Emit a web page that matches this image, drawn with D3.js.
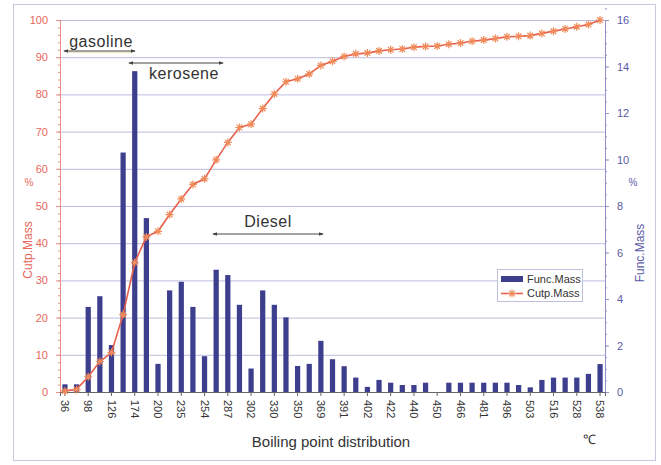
<!DOCTYPE html>
<html lang="en">
<head>
<meta charset="utf-8">
<title>boiling point distribution</title>
<style>
  body { margin: 0; background: #fff; }
  svg { display: block; font-family: "Liberation Sans", Arial, sans-serif; }
  .grid line { stroke: #bcbce0; stroke-width: 1px; }
  .yl path, .yl line { stroke: #e89088; }
  .yl text { fill: #e8665a; font-size: 11px; }
  .yr path, .yr line { stroke: #9090cc; }
  .yr text { fill: #5a5aa8; font-size: 11px; }
  .xa path, .xa line { stroke: #666; }
  .xa text { fill: #333; font-size: 11px; }
  .note { font-size: 16px; fill: #333; letter-spacing: 0.5px; }
</style>
</head>
<body>
<script src="https://cdnjs.cloudflare.com/ajax/libs/d3/7.8.5/d3.min.js"></script>
<script>
// labels shown on every other category
var tickLabels = ["36","98","126","174","200","235","254","287","302","330","350","369",
                  "391","402","422","440","450","466","481","496","503","516","528","538"];

// Func.Mass (right axis, %)
var funcMass = [0.33,0.33,3.66,4.12,2.02,10.3,13.8,7.48,1.21,4.37,4.74,3.66,1.54,5.26,5.03,3.75,
                1.01,4.37,3.75,3.21,1.12,1.21,2.2,1.41,1.11,0.62,0.22,0.52,0.4,0.3,0.3,0.4,
                0,0.4,0.4,0.4,0.4,0.4,0.4,0.3,0.2,0.52,0.62,0.62,0.62,0.78,1.2];

// Cutp.Mass (left axis, %)
var cutpMass = [0.3,0.7,4.1,8.2,10.6,20.8,34.8,41.7,43.2,47.7,51.9,55.8,57.3,62.4,67.1,71.1,
                72.0,76.2,80.1,83.4,84.2,85.5,87.8,88.9,90.2,90.9,91.1,91.7,92.0,92.2,92.7,92.9,
                93.0,93.5,93.8,94.3,94.6,95.0,95.5,95.6,95.8,96.4,97.0,97.6,98.2,98.8,100];

var W = 661, H = 465;
var L = 60, R = 605, T = 20, B = 392;

var svg = d3.select("body").append("svg")
  .attr("width", W).attr("height", H);

// outer frame
svg.append("rect")
  .attr("x", 13.5).attr("y", 4.5).attr("width", 642).attr("height", 456)
  .attr("fill", "#fff").attr("stroke", "#c8c8e0");

var x = d3.scaleBand().domain(d3.range(funcMass.length)).range([L, R]).paddingInner(0.55).paddingOuter(0.2);
var yL = d3.scaleLinear().domain([0, 100]).range([B, T]);
var yR = d3.scaleLinear().domain([0, 16]).range([B, T]);

// grid
svg.append("g").attr("class", "grid")
  .selectAll("line").data(d3.range(10, 101, 10)).enter().append("line")
  .attr("x1", L).attr("x2", R)
  .attr("y1", function(d) { return yL(d) + 0.5; })
  .attr("y2", function(d) { return yL(d) + 0.5; });

// bars
svg.append("g").selectAll("rect").data(funcMass).enter().append("rect")
  .attr("x", function(d, i) { return x(i); })
  .attr("width", x.bandwidth())
  .attr("y", function(d) { return yR(d); })
  .attr("height", function(d) { return B - yR(d); })
  .attr("fill", "#3e3e8e");

// axes
svg.append("g").attr("class", "yl")
  .attr("transform", "translate(" + L + ",0)")
  .call(d3.axisLeft(yL).tickValues(d3.range(0, 101, 10)).tickSize(4).tickPadding(8));
svg.append("g").attr("class", "yl")
  .attr("transform", "translate(" + L + ",0)")
  .call(d3.axisLeft(yL).tickValues(d3.range(0, 101, 2)).tickSize(2).tickFormat(""));

svg.append("g").attr("class", "yr")
  .attr("transform", "translate(" + R + ",0)")
  .call(d3.axisRight(yR).tickValues(d3.range(0, 17, 2)).tickSize(4).tickPadding(8));
svg.append("g").attr("class", "yr")
  .attr("transform", "translate(" + R + ",0)")
  .call(d3.axisRight(yR).tickValues(d3.range(0, 17, 0.5)).tickSize(2).tickFormat(""));

var xAxis = svg.append("g").attr("class", "xa")
  .attr("transform", "translate(0," + B + ")")
  .call(d3.axisBottom(x)
    .tickValues(d3.range(0, funcMass.length, 2))
    .tickSize(4)
    .tickFormat(function(d) { return tickLabels[d / 2]; }));
xAxis.selectAll("text")
  .attr("transform", "rotate(90)")
  .attr("x", 8).attr("y", 0).attr("dy", "0.35em")
  .style("text-anchor", "start");

// cumulative line
var line = d3.line()
  .x(function(d, i) { return x(i) + x.bandwidth() / 2; })
  .y(function(d) { return yL(d); });

svg.append("path").datum(cutpMass)
  .attr("d", line)
  .attr("fill", "none")
  .attr("stroke", "#e8604c")
  .attr("stroke-width", 1.6);

function star(cx, cy, r) {
  var d = "", a;
  for (var k = 0; k < 4; k++) {
    a = k * Math.PI / 4;
    d += "M" + (cx - r * Math.cos(a)) + "," + (cy - r * Math.sin(a)) +
         "L" + (cx + r * Math.cos(a)) + "," + (cy + r * Math.sin(a));
  }
  return d;
}

svg.append("g").selectAll("path").data(cutpMass).enter().append("path")
  .attr("d", function(d, i) { return star(x(i) + x.bandwidth() / 2, yL(d), 4); })
  .attr("stroke", "#f08a5a")
  .attr("stroke-width", 1.2)
  .attr("fill", "none");

// axis titles
svg.append("text").attr("transform", "translate(32,250) rotate(-90)")
  .style("text-anchor", "middle").style("font-size", "12px").attr("fill", "#e8665a")
  .text("Cutp.Mass");
svg.append("text").attr("x", 29).attr("y", 186)
  .style("text-anchor", "middle").style("font-size", "10px").attr("fill", "#e8665a")
  .text("%");
svg.append("text").attr("transform", "translate(644,253) rotate(-90)")
  .style("text-anchor", "middle").style("font-size", "12px").attr("fill", "#5a5aa8")
  .text("Func.Mass");
svg.append("text").attr("x", 633).attr("y", 186)
  .style("text-anchor", "middle").style("font-size", "10px").attr("fill", "#5a5aa8")
  .text("%");
svg.append("text").attr("x", 331).attr("y", 447)
  .style("text-anchor", "middle").style("font-size", "15px").attr("fill", "#333")
  .text("Boiling point distribution");
svg.append("text").attr("x", 589).attr("y", 444)
  .style("text-anchor", "middle").style("font-size", "13px").attr("fill", "#333")
  .text("℃");

// range annotations
var defs = svg.append("defs");
defs.append("marker").attr("id", "ah").attr("viewBox", "0 0 6 6")
  .attr("refX", 5).attr("refY", 3).attr("markerWidth", 5).attr("markerHeight", 5)
  .attr("orient", "auto-start-reverse")
  .append("path").attr("d", "M0,0.8L6,3L0,5.2Z").attr("fill", "#444");

var ranges = [
  { name: "gasoline", x1: 64, x2: 135, y: 51, tx: 101, ty: 47 },
  { name: "kerosene", x1: 129, x2: 223, y: 63, tx: 184, ty: 79 },
  { name: "Diesel", x1: 213, x2: 323, y: 234, tx: 268, ty: 227 }
];
ranges.forEach(function(r) {
  svg.append("line")
    .attr("x1", r.x1).attr("x2", r.x2).attr("y1", r.y).attr("y2", r.y)
    .attr("stroke", "#444").attr("stroke-width", 1)
    .attr("marker-start", "url(#ah)").attr("marker-end", "url(#ah)");
  svg.append("text").attr("class", "note")
    .attr("x", r.tx).attr("y", r.ty).style("text-anchor", "middle")
    .text(r.name);
});
svg.append("line").attr("x1", 68).attr("x2", 131).attr("y1", 52.5).attr("y2", 52.5)
  .attr("stroke", "#e6e0a8").attr("stroke-width", 0.8);

// legend
var lg = svg.append("g").attr("transform", "translate(497,269)");
lg.append("rect").attr("x", 0.5).attr("y", 0.5).attr("width", 85).attr("height", 32)
  .attr("fill", "#fff").attr("stroke", "#c0c0dc");
lg.append("rect").attr("x", 4).attr("y", 7).attr("width", 22).attr("height", 6).attr("fill", "#3e3e8e");
lg.append("text").attr("x", 30).attr("y", 14).style("font-size", "11px").attr("fill", "#333").text("Func.Mass");
lg.append("line").attr("x1", 4).attr("x2", 26).attr("y1", 24.5).attr("y2", 24.5)
  .attr("stroke", "#e8604c").attr("stroke-width", 1.6);
lg.append("path").attr("d", star(15, 24.5, 4)).attr("stroke", "#f08a5a").attr("stroke-width", 1.2);
lg.append("text").attr("x", 30).attr("y", 28).style("font-size", "11px").attr("fill", "#333").text("Cutp.Mass");
</script>
</body>
</html>
